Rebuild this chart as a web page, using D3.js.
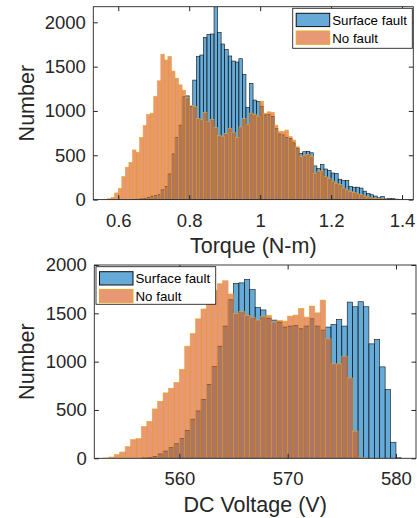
<!DOCTYPE html>
<html>
<head>
<meta charset="utf-8">
<script src="https://cdn.jsdelivr.net/npm/d3@7"></script>
<style>
body { margin: 0; background: #fff; }
svg { display: block; font-family: "Liberation Sans", Arial, Helvetica, sans-serif; }
</style>
</head>
<body>
<svg id="chart" width="417" height="518"></svg>
<script>
// ---- data ----
const seriesNames = ["Surface fault", "No fault"];

// torque histogram: bins of 0.01 N-m starting at 0.56
const torqueBinStart = 0.56, torqueBinWidth = 0.01;
const torqueSurface = [
  0, 0, 0, 0, 0, 0, 0, 0,
  2, 4, 8, 12, 25, 40, 45, 55,
  110, 150, 290, 515, 700, 840, 1160, 1170,
  1050, 1348, 1612, 1631, 1830, 1864, 1868, 2400,
  1887, 1755, 1695, 1620, 1563, 1552, 1589, 1413,
  1040, 1311, 1123, 1105, 1050, 955, 960, 940,
  800, 740, 730, 700, 690, 640, 580, 521,
  540, 545, 528, 380, 350, 395, 345, 330,
  300, 295, 230, 215, 215, 150, 140, 140,
  130, 95, 70, 55, 40, 20, 35, 8,
  12, 10, 5, 2
];
const torqueNoFault = [
  0, 10, 25, 75, 125, 260, 365, 420,
  560, 535, 700, 835, 960, 975, 1165, 1340,
  1640, 1575, 1615, 1450, 1370, 1295, 1235, 1150,
  1060, 1050, 915, 900, 985, 880, 905, 815,
  725, 715, 745, 805, 760, 700, 820, 915,
  850, 975, 960, 935, 1110, 975, 990, 985,
  840, 770, 770, 785, 710, 672, 596, 483,
  500, 510, 485, 295, 320, 325, 258, 240,
  210, 185, 170, 130, 110, 90, 80, 65,
  55, 40, 30, 20, 15, 10, 8, 5,
  3, 2, 1, 0
];
const torqueTicks = [0.6, 0.8, 1.0, 1.2, 1.4];

// DC voltage histogram: bins of 0.5 V starting at 553
const voltBinStart = 553, voltBinWidth = 0.5;
const voltSurface = [
  0, 0, 0, 0, 0, 0, 0,
  3, 5, 20, 45, 75, 110, 150, 205,
  290, 405, 490, 610, 765, 950, 1160, 1368,
  1640, 1810, 1815, 1850, 1745, 1560, 1535, 1450,
  1430, 1409, 1358, 1368, 1374, 1340, 1368, 1443,
  1368, 1326, 1358, 1385, 1437, 1368, 1616, 1568,
  1620, 1568, 1184, 1229, 946, 711, 166, 5
];
const voltNoFault = [
  3, 13, 38, 65, 120, 193, 203,
  328, 383, 511, 590, 677, 725, 784, 920,
  1160, 1290, 1443, 1545, 1660, 1737, 1806, 1837,
  1700, 1500, 1520, 1480, 1460, 1430, 1470, 1480,
  1410, 1427, 1420, 1471, 1482, 1551, 1461, 1575,
  1505, 1637, 1236, 977, 977, 1057, 832, 281,
  12, 0, 0, 0, 0, 0, 0, 0
];
const voltTicks = [560, 570, 580];

const countTicks = [0, 500, 1000, 1500, 2000];

// ---- styling ----
const ink = "#262626";
const fills = ["#0072BD", "#D95319"];
const edges = ["#111111", "#E8A628"];
const tickFont = 18.5, labelFont = 21.5, legendFont = 13.3;

const svg = d3.select("#chart");

function drawPanel(p) {
  const x = d3.scaleLinear().domain(p.xDomain).range([p.left, p.right]);
  const y = d3.scaleLinear().domain([0, p.yMax]).range([p.bottom, p.top]);
  const g = svg.append("g");

  g.append("clipPath").attr("id", p.id + "-clip")
    .append("rect")
    .attr("x", p.left).attr("y", p.top)
    .attr("width", p.right - p.left).attr("height", p.bottom - p.top);

  const plot = g.append("g").attr("clip-path", `url(#${p.id}-clip)`);

  p.series.forEach((vals, s) => {
    plot.append("g")
      .selectAll("rect")
      .data(vals)
      .enter()
      .append("rect")
      .attr("x", (d, i) => x(p.binStart + i * p.binWidth))
      .attr("width", (d, i) => x(p.binStart + (i + 1) * p.binWidth) - x(p.binStart + i * p.binWidth))
      .attr("y", d => y(d))
      .attr("height", d => y(0) - y(d))
      .attr("fill", fills[s])
      .attr("fill-opacity", 0.6)
      .attr("stroke", edges[s])
      .attr("stroke-width", 0.6)
      .attr("display", d => d > 0 ? null : "none");
  });

  const tl = 4.5;

  // bottom axis with labels
  const xa = g.append("g")
    .attr("transform", `translate(0,${p.bottom})`)
    .call(d3.axisBottom(x).tickValues(p.xTicks).tickFormat(d3.format("~g"))
      .tickSizeInner(-tl).tickSizeOuter(0).tickPadding(14));
  // top mirror ticks
  const xt = g.append("g")
    .attr("transform", `translate(0,${p.top})`)
    .call(d3.axisTop(x).tickValues(p.xTicks).tickFormat("")
      .tickSizeInner(-tl).tickSizeOuter(0));
  // left axis with labels
  const ya = g.append("g")
    .attr("transform", `translate(${p.left},0)`)
    .call(d3.axisLeft(y).tickValues(countTicks).tickFormat(d3.format("d"))
      .tickSizeInner(-tl).tickSizeOuter(0).tickPadding(7.5));
  // right mirror ticks
  const yr = g.append("g")
    .attr("transform", `translate(${p.right},0)`)
    .call(d3.axisRight(y).tickValues(countTicks).tickFormat("")
      .tickSizeInner(-tl).tickSizeOuter(0));

  [xa, xt, ya, yr].forEach(a => {
    a.attr("font-family", null).attr("font-size", tickFont);
    a.select(".domain").remove();
    a.selectAll("line").attr("stroke", ink);
    a.selectAll("text").attr("fill", ink);
  });

  // axes box
  g.append("rect")
    .attr("x", p.left).attr("y", p.top)
    .attr("width", p.right - p.left).attr("height", p.bottom - p.top)
    .attr("fill", "none").attr("stroke", ink).attr("stroke-width", 0.9);

  // axis titles
  g.append("text")
    .attr("x", (p.left + p.right) / 2).attr("y", p.bottom + 53.5)
    .attr("text-anchor", "middle").attr("font-size", labelFont).attr("fill", ink)
    .text(p.xLabel);
  g.append("text")
    .attr("transform", `translate(33.5,${(p.top + p.bottom) / 2}) rotate(-90)`)
    .attr("text-anchor", "middle").attr("font-size", labelFont).attr("fill", ink)
    .text("Number");

  // legend
  const L = p.legend;
  const lg = g.append("g");
  lg.append("rect")
    .attr("x", L.x).attr("y", L.y).attr("width", L.w).attr("height", L.h)
    .attr("fill", "#fff").attr("stroke", ink).attr("stroke-width", 0.9);
  seriesNames.forEach((name, s) => {
    const sy = L.y + 5 + s * 17.7;
    lg.append("rect")
      .attr("x", L.x + 3.5).attr("y", sy).attr("width", 33.5).attr("height", 13.3)
      .attr("fill", fills[s]).attr("fill-opacity", 0.6)
      .attr("stroke", edges[s]).attr("stroke-width", 1);
    lg.append("text")
      .attr("x", L.x + 39.5).attr("y", sy + 11.5)
      .attr("font-size", legendFont).attr("fill", "#000")
      .text(name);
  });
}

drawPanel({
  id: "torque",
  left: 93.3, right: 413.3, top: 6.7, bottom: 199.6,
  xDomain: [0.5296, 1.4318], yMax: 2176,
  binStart: torqueBinStart, binWidth: torqueBinWidth,
  series: [torqueSurface, torqueNoFault],
  xTicks: torqueTicks,
  xLabel: "Torque (N-m)",
  legend: { x: 292.7, y: 8.3, w: 119.6, h: 40 }
});

drawPanel({
  id: "volt",
  left: 94.3, right: 416, top: 265, bottom: 458.3,
  xDomain: [552.15, 581.85], yMax: 2000,
  binStart: voltBinStart, binWidth: voltBinWidth,
  series: [voltSurface, voltNoFault],
  xTicks: voltTicks,
  xLabel: "DC Voltage (V)",
  legend: { x: 96, y: 266.7, w: 119.7, h: 37.6 }
});
</script>
</body>
</html>
